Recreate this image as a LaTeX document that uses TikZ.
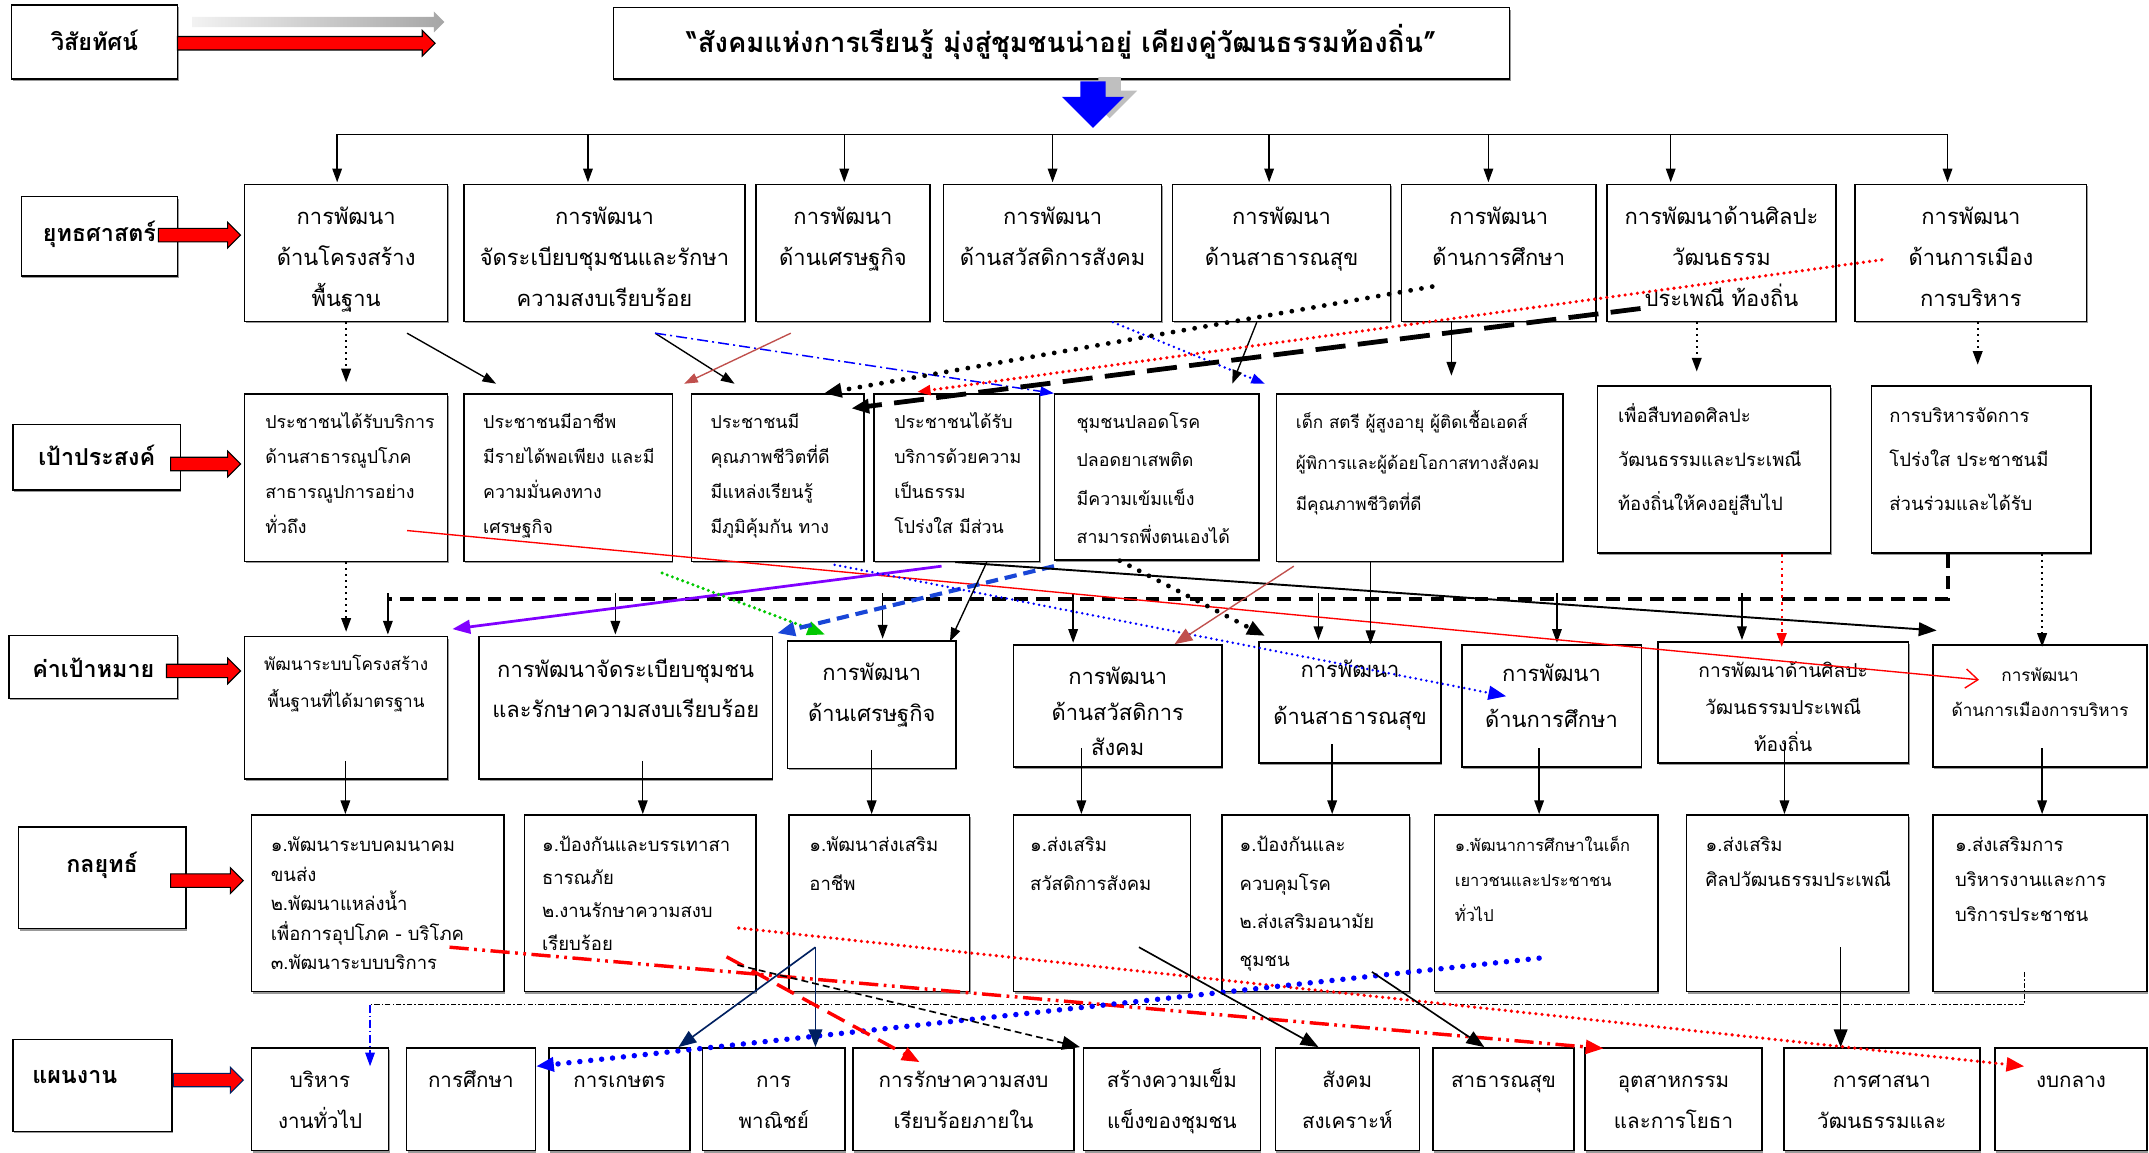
\documentclass[tikz,border=0pt]{standalone}
\usepackage{fontspec}
\setmainfont[Script=Thai]{Loma}
\usepackage{tikz}
\usetikzlibrary{shapes.arrows,            % flèches épaisses
           arrows.meta,                   % pointes de flèches
           calc,                          % calculs de coordonnées entre $ $
           positioning,
           shadows}                       % ombres des boîtes
\definecolor{brique}{RGB}{192,80,77}
\definecolor{violetf}{RGB}{128,0,255}
\definecolor{vertp}{RGB}{0,200,0}
\definecolor{bleum}{RGB}{25,70,215}
\definecolor{marine}{RGB}{0,32,96}
\newcommand{\debutc}[1]{\centering\leavevmode\rule{0pt}{#1pt}}
\newcommand{\debutg}[2]{\raggedright\leftskip=#2pt\leavevmode\rule{0pt}{#1pt}}
\tikzset{
  boite/.style n args={3}{draw,line width=1.1pt,fill=white,inner sep=0pt,anchor=north west,
    drop shadow={shadow xshift=0.8pt,shadow yshift=-1.4pt,fill=black!40,opacity=1},
    execute at begin node={\begin{minipage}[c][#2][t]{#1}#3},
    execute at end node={\end{minipage}}},
  etiq/.style={font=\bfseries\fontsize{17}{20}\selectfont},
  rangY/.style={font=\fontsize{16}{30}\selectfont},
  rangP/.style={font=\fontsize{13}{25.5}\selectfont},
  rangG/.style={font=\fontsize{13.5}{28}\selectfont},
  rangE/.style={font=\fontsize{15}{30}\selectfont},
  fgrosse/.style={single arrow,draw=black,fill=red,line width=0.8pt,minimum width=18pt,
    single arrow head extend=4.5pt,inner sep=4.5pt,anchor=tail},
  trait/.style={line width=1pt},
  fl/.style={-{Triangle[length=10pt,width=7pt]}},
  flg/.style={-{Triangle[length=13pt,width=10pt]}},
  pointN/.style={line width=1.4pt,dash pattern=on 1.4pt off 3pt},
  grosPoints/.style={line width=3.5pt,dash pattern=on 0pt off 8pt,line cap=round},
  petitsPoints/.style={line width=2pt,dash pattern=on 0pt off 4pt,line cap=round},
  pointsRouges/.style={line width=2.6pt,red,dash pattern=on 0pt off 4.5pt,line cap=round},
  tiretN/.style={line width=3pt,dash pattern=on 10pt off 6pt},
}

\begin{document}
\begin{tikzpicture}[x=1pt,y=-1pt]
\useasboundingbox (0,0) rectangle (1568,841);

\node[boite={121pt}{54pt}{\debutc{33}},etiq] (vis) at (8,3) {วิสัยทัศน์};
\node[boite={654pt}{52pt}{\debutc{33}},font=\bfseries\fontsize{20}{24}\selectfont] (visT) at (447,5) {“สังคมแห่งการเรียนรู้ มุ่งสู่ชุมชนน่าอยู่ เคียงคู่วัฒนธรรมท้องถิ่น”};
\node[single arrow,draw=none,left color=black!5,right color=black!35,minimum height=184pt,minimum width=15pt,
  single arrow head extend=4pt,inner sep=3.5pt,anchor=tail] (ombreV) at (140,16) {};
\node[fgrosse,minimum height=188pt] (flV) at ($(vis.east)+(-1,1)$) {};
\node[single arrow,fill=black!25,minimum height=30pt,minimum width=40pt,single arrow head extend=12pt,
  inner sep=8pt,shape border rotate=270,anchor=tail] (ombreT) at ($(visT.south)+(35,-2)$) {};
\node[single arrow,fill=blue,minimum height=34pt,minimum width=45pt,single arrow head extend=13.5pt,
  inner sep=9pt,shape border rotate=270,anchor=tail] (flT) at ($(visT.south)+(23,1)$) {};

\node[boite={114pt}{58pt}{\debutc{33}},etiq] (lYut) at (15,143) {ยุทธศาสตร์};
\node[boite={148pt}{100pt}{\debutc{29}},rangY] (y1) at (178,134) {การพัฒนา\\ด้านโครงสร้าง\\พื้นฐาน};
\node[boite={205pt}{100pt}{\debutc{29}},rangY] (y2) at (338,134) {การพัฒนา\\จัดระเบียบชุมชนและรักษา\\ความสงบเรียบร้อย};
\node[boite={127pt}{100pt}{\debutc{29}},rangY] (y3) at (551,134) {การพัฒนา\\ด้านเศรษฐกิจ};
\node[boite={159pt}{100pt}{\debutc{29}},rangY] (y4) at (688,134) {การพัฒนา\\ด้านสวัสดิการสังคม};
\node[boite={159pt}{100pt}{\debutc{29}},rangY] (y5) at (855,134) {การพัฒนา\\ด้านสาธารณสุข};
\node[boite={142pt}{100pt}{\debutc{29}},rangY] (y6) at (1022,134) {การพัฒนา\\ด้านการศึกษา};
\node[boite={167pt}{100pt}{\debutc{29}},rangY] (y7) at (1172,134) {การพัฒนาด้านศิลปะ\\วัฒนธรรม\\ประเพณี ท้องถิ่น};
\node[boite={169pt}{100pt}{\debutc{29}},rangY] (y8) at (1353,134) {การพัฒนา\\ด้านการเมือง\\การบริหาร};
\node[fgrosse,minimum height=60pt] (fY) at ($(lYut.east)+(-15,-1)$) {};

\node[boite={122pt}{48pt}{\debutc{30}},etiq] (lPao) at (9,309) {เป้าประสงค์};
\node[boite={148pt}{122pt}{\debutg{25}{15}},rangP] (p1) at (178,287) {ประชาชนได้รับบริการ\\ด้านสาธารณูปโภค\\สาธารณูปการอย่าง\\ทั่วถึง};
\node[boite={152pt}{122pt}{\debutg{25}{14}},rangP] (p2) at (338,287) {ประชาชนมีอาชีพ\\มีรายได้พอเพียง และมี\\ความมั่นคงทาง\\เศรษฐกิจ};
\node[boite={126pt}{122pt}{\debutg{25}{14}},rangP] (p3) at (504,287) {ประชาชนมี\\คุณภาพชีวิตที่ดี\\มีแหล่งเรียนรู้\\มีภูมิคุ้มกัน ทาง};
\node[boite={121pt}{122pt}{\debutg{25}{15}},rangP] (p4) at (637,287) {ประชาชนได้รับ\\บริการด้วยความ\\เป็นธรรม\\โปร่งใส มีส่วน};
\node[boite={149pt}{121pt}{\debutg{25}{16}},font=\fontsize{13}{28}\selectfont] (p5) at (769,287) {ชุมชนปลอดโรค\\ปลอดยาเสพติด\\มีความเข้มแข็ง\\สามารถพึ่งตนเองได้};
\node[boite={209pt}{122pt}{\debutg{25}{14}},font=\fontsize{12.5}{30}\selectfont] (p6) at (931,287) {เด็ก สตรี ผู้สูงอายุ ผู้ติดเชื้อเอดส์\\ผู้พิการและผู้ด้อยโอกาสทางสังคม\\มีคุณภาพชีวิตที่ดี};
\node[boite={170pt}{122pt}{\debutg{27}{15}},font=\fontsize{13.5}{32}\selectfont] (p7) at (1165,281) {เพื่อสืบทอดศิลปะ\\วัฒนธรรมและประเพณี\\ท้องถิ่นให้คงอยู่สืบไป};
\node[boite={160pt}{122pt}{\debutg{27}{13}},font=\fontsize{13.5}{32}\selectfont] (p8) at (1365,281) {การบริหารจัดการ\\โปร่งใส ประชาชนมี\\ส่วนร่วมและได้รับ};
\node[fgrosse,minimum height=51pt] (fP) at ($(lPao.east)+(-8,5)$) {};

\node[boite={123pt}{46pt}{\debutc{31}},etiq] (lKha) at (6,463) {ค่าเป้าหมาย};
\node[boite={148pt}{104pt}{\debutc{25}},font=\fontsize{12.5}{27}\selectfont] (k1) at (178,464) {พัฒนาระบบโครงสร้าง\\พื้นฐานที่ได้มาตรฐาน};
\node[boite={214pt}{104pt}{\debutc{30}},font=\fontsize{16}{29}\selectfont] (k2) at (349,464) {การพัฒนาจัดระเบียบชุมชน\\และรักษาความสงบเรียบร้อย};
\node[boite={123pt}{93pt}{\debutc{29}},rangY] (k3) at (574,467) {การพัฒนา\\ด้านเศรษฐกิจ};
\node[boite={152pt}{89pt}{\debutc{29}},font=\fontsize{16}{26}\selectfont] (k4) at (739,470) {การพัฒนา\\ด้านสวัสดิการ\\สังคม};
\node[boite={133pt}{88pt}{\debutc{26}},font=\fontsize{16}{34}\selectfont] (k5) at (918,468) {การพัฒนา\\ด้านสาธารณสุข};
\node[boite={131pt}{89pt}{\debutc{27}},font=\fontsize{16}{33}\selectfont] (k6) at (1066,470) {การพัฒนา\\ด้านการศึกษา};
\node[boite={183pt}{88pt}{\debutc{26}},font=\fontsize{14}{27}\selectfont] (k7) at (1209,468) {การพัฒนาด้านศิลปะ\\วัฒนธรรมประเพณี\\ท้องถิ่น};
\node[boite={156pt}{89pt}{\debutc{27}},font=\fontsize{12.5}{25.5}\selectfont] (k8) at (1410,470) {การพัฒนา\\ด้านการเมืองการบริหาร};
\node[fgrosse,minimum height=54pt] (fK) at ($(lKha.east)+(-9,3)$) {};

\node[boite={122pt}{74pt}{\debutc{33}},etiq] (lKol) at (13,603) {กลยุทธ์};
\node[boite={184pt}{129pt}{\debutg{27}{14}},font=\fontsize{13.5}{21.5}\selectfont] (g1) at (183,594) {๑.พัฒนาระบบคมนาคม\\ขนส่ง\\๒.พัฒนาแหล่งน้ำ\\เพื่อการอุปโภค - บริโภค\\๓.พัฒนาระบบบริการ};
\node[boite={169pt}{129pt}{\debutg{27}{13}},font=\fontsize{13.5}{24}\selectfont] (g2) at (382,594) {๑.ป้องกันและบรรเทาสา\\ธารณภัย\\๒.งานรักษาความสงบ\\เรียบร้อย};
\node[boite={132pt}{129pt}{\debutg{27}{15}},rangG] (g3) at (575,594) {๑.พัฒนาส่งเสริม\\อาชีพ};
\node[boite={129pt}{129pt}{\debutg{27}{12}},rangG] (g4) at (739,594) {๑.ส่งเสริม\\สวัสดิการสังคม};
\node[boite={137pt}{129pt}{\debutg{27}{13}},rangG] (g5) at (891,594) {๑.ป้องกันและ\\ควบคุมโรค\\๒.ส่งเสริมอนามัย\\ชุมชน};
\node[boite={163pt}{129pt}{\debutg{27}{15}},font=\fontsize{12}{25.5}\selectfont] (g6) at (1046,594) {๑.พัฒนาการศึกษาในเด็ก\\เยาวชนและประชาชน\\ทั่วไป};
\node[boite={162pt}{129pt}{\debutg{27}{14}},font=\fontsize{13.5}{25.5}\selectfont] (g7) at (1230,594) {๑.ส่งเสริม\\ศิลปวัฒนธรรมประเพณี};
\node[boite={156pt}{129pt}{\debutg{27}{16}},font=\fontsize{13.5}{25.5}\selectfont] (g8) at (1410,594) {๑.ส่งเสริมการ\\บริหารงานและการ\\บริการประชาชน};
\node[fgrosse,minimum height=53pt] (fG) at ($(lKol.east)+(-12,2)$) {};

\node[boite={116pt}{67pt}{\debutg{32}{14}},etiq] (lPlan) at (9,758) {แผนงาน};
\node[boite={100pt}{75pt}{\debutc{29}},rangE] (e1) at (183,764) {บริหาร\\งานทั่วไป};
\node[boite={94pt}{75pt}{\debutc{29}},rangE] (e2) at (296,764) {การศึกษา};
\node[boite={103pt}{75pt}{\debutc{29}},rangE] (e3) at (400,764) {การเกษตร};
\node[boite={104pt}{75pt}{\debutc{29}},rangE] (e4) at (512,764) {การ\\พาณิชย์};
\node[boite={161pt}{75pt}{\debutc{29}},rangE] (e5) at (622,764) {การรักษาความสงบ\\เรียบร้อยภายใน};
\node[boite={129pt}{75pt}{\debutc{29}},rangE] (e6) at (790,764) {สร้างความเข็ม\\แข็งของชุมชน};
\node[boite={105pt}{75pt}{\debutc{29}},rangE] (e7) at (930,764) {สังคม\\สงเคราะห์};
\node[boite={103pt}{75pt}{\debutc{29}},rangE] (e8) at (1045,764) {สาธารณสุข};
\node[boite={129pt}{75pt}{\debutc{29}},rangE] (e9) at (1156,764) {อุตสาหกรรม\\และการโยธา};
\node[boite={143pt}{75pt}{\debutc{29}},rangE] (e10) at (1301,764) {การศาสนา\\วัฒนธรรมและ};
\node[boite={111pt}{75pt}{\debutc{29}},rangE] (e11) at (1455,764) {งบกลาง};
\node[fgrosse,draw=marine,minimum height=51pt] (fE) at ($(lPlan.east)+(0,-4)$) {};

\draw[trait] ($(y1.north west)+(68,-36)$) -- ($(y8.north west)+(68,-36)$);
\foreach \n/\dx in {y1/68,y2/91,y3/65,y4/80,y5/71,y6/64,y7/47,y8/68}
  \draw[trait,fl] ($(\n.north west)+(\dx,-36)$) -- ($(\n.north west)+(\dx,-1)$);

\draw[pointN,fl] (y1.south) -- ($(p1.north)+(0,-8)$);
\draw[trait,fl] ($(y1.south west)+(119,8)$) -- ($(p2.north west)+(24,-7)$);
\draw[trait,fl] ($(y2.south west)+(140,8)$) -- ($(p3.north west)+(32,-7)$);
\draw[line width=1.1pt,blue,dash pattern=on 8pt off 3pt on 1.5pt off 3pt,fl] ($(y2.south west)+(140,8)$) -- (p5.north west);
\draw[trait,brique,fl] ($(y3.south west)+(26,8)$) -- ($(p2.north east)+(8,-7)$);
\draw[petitsPoints,blue,fl] ($(y4.south west)+(124,0)$) -- ($(p6.north west)+(-8,-7)$);
\draw[trait,fl] ($(y5.south west)+(62,0)$) -- ($(p5.north east)+(-20,-7)$);
\draw[grosPoints,flg] ($(y6.south west)+(23,-26)$) -- ($(p3.north east)+(-30,0)$);
\draw[pointsRouges,fl] ($(y8.west)+(20,5)$) -- ($(p4.north west)+(32,-1)$);
\draw[line width=3.5pt,dash pattern=on 22pt off 9pt,flg] ($(y7.south west)+(25,-10)$) -- ($(p3.north east)+(-10,11)$);
\draw[trait,fl] ($(y6.south west)+(37,0)$) -- ++(0,39);
\draw[pointN,fl] ($(y7.south west)+(66,0)$) -- ++(0,36);
\draw[pointN,fl] ($(y8.south west)+(90,0)$) -- ++(0,31);

\draw[pointN,fl] (p1.south) -- ($(k1.north)+(0,-3)$);
\draw[tiretN] ($(p8.south west)+(56,0)$) |- ($(k1.north west)+(105,-27)$);
\coordinate (ligneK) at ($(k1.north west)+(0,-31)$);
\foreach \n/\dx in {k1/105,k2/100,k3/70,k4/44,k5/44,k6/70,k7/62}{
  \coordinate (s) at ($(\n.north west)+(\dx,0)$);
  \draw[trait,fl] (s |- ligneK) -- ($(s)+(0,-1)$);
}
\draw[trait,red,-{Straight Barb[length=9pt,width=14pt]}] ($(p1.south west)+(119,-23)$) -- ($(k8.north west)+(34,26)$);
\draw[line width=2pt,violetf,flg] ($(p4.south west)+(50,3)$) -- ($(k1.north east)+(3,-5)$);
\draw[line width=2.5pt,vertp,dash pattern=on 0pt off 4pt,line cap=round,flg] ($(p2.south east)+(-8,8)$) -- ($(k3.north west)+(28,-4)$);
\draw[line width=3pt,bleum,dash pattern=on 9pt off 5pt,flg] ($(p5.south west)+(0,4)$) -- ($(k2.north east)+(3,-2)$);
\draw[petitsPoints,blue,flg] ($(p3.south west)+(105,2)$) -- ($(k6.north west)+(33,38)$);
\draw[grosPoints,flg] ($(p5.south west)+(48,0)$) -- ($(k5.north west)+(5,-4)$);
\draw[trait,fl] ($(p4.south west)+(83,0)$) -- ($(k3.north east)+(-5,1)$);
\draw[line width=1.4pt,flg] ($(p4.south west)+(60,0)$) -- ($(k8.north west)+(3,-10)$);
\draw[trait,brique,flg] ($(p6.south west)+(13,3)$) -- ($(k4.north west)+(118,0)$);
\draw[trait,fl] ($(p6.south west)+(69,0)$) -- ($(k5.north west)+(82,2)$);
\draw[line width=1.6pt,red,dash pattern=on 2pt off 3pt,fl] ($(p7.south west)+(135,0)$) -- ($(k7.north west)+(91,4)$);
\draw[pointN,fl] ($(p8.south west)+(125,0)$) -- ($(k8.north west)+(80,2)$);

\foreach \a/\b/\dx in {k1/g1/74,k2/g2/120,k3/g3/62,k4/g4/50,k5/g5/54,k6/g6/57,k7/g7/93,k8/g8/80}{
  \coordinate (s) at ($(\a.south west)+(\dx,-14)$);
  \draw[trait,fl] (s) -- (s |- \b.north);
}

\draw[line width=0.6pt,dash pattern=on 4pt off 1.5pt on 1pt off 1.5pt] ($(g8.south west)+(67,-15)$) |- ($(e1.north west)+(87,-31)$);
\draw[line width=1pt,blue,dash pattern=on 6pt off 2pt on 1pt off 2pt,fl] ($(e1.north west)+(87,-31)$) -- ($(e1.north west)+(87,14)$);
\draw[line width=2.5pt,red,dash pattern=on 14pt off 4pt on 2pt off 4pt on 2pt off 4pt,flg] ($(g1.south west)+(145,-33)$) -- ($(e9.north west)+(14,1)$);
\draw[pointsRouges,flg] ($(g2.south west)+(157,-47)$) -- ($(e11.north west)+(22,14)$);
\draw[line width=4pt,blue,dash pattern=on 0pt off 8pt,line cap=round,flg] ($(g6.south west)+(77,-25)$) -- ($(e2.north east)+(0,14)$);
\draw[line width=1.2pt,marine,flg] ($(g3.south west)+(20,-33)$) -- ($(e3.north west)+(95,0)$);
\draw[line width=1.2pt,marine,flg] ($(g3.south west)+(20,-33)$) -- ($(e4.north west)+(83,0)$);
\draw[line width=2.5pt,red,dash pattern=on 14pt off 7pt,flg] ($(g2.south east)+(-22,-26)$) -- ($(e5.north west)+(49,11)$);
\draw[line width=1.2pt,dash pattern=on 5pt off 3pt,flg] ($(g2.south east)+(-14,-20)$) -- ($(e6.north west)+(-2,0)$);
\draw[line width=1.2pt,flg] ($(g4.south west)+(92,-33)$) -- ($(e7.north west)+(32,0)$);
\draw[line width=1.2pt,flg] ($(g5.south west)+(110,-15)$) -- ($(e8.north west)+(38,0)$);
\draw[line width=1.2pt,flg] ($(g7.south west)+(113,-33)$) -- ($(e10.north west)+(42,0)$);
\end{tikzpicture}
\end{document}
